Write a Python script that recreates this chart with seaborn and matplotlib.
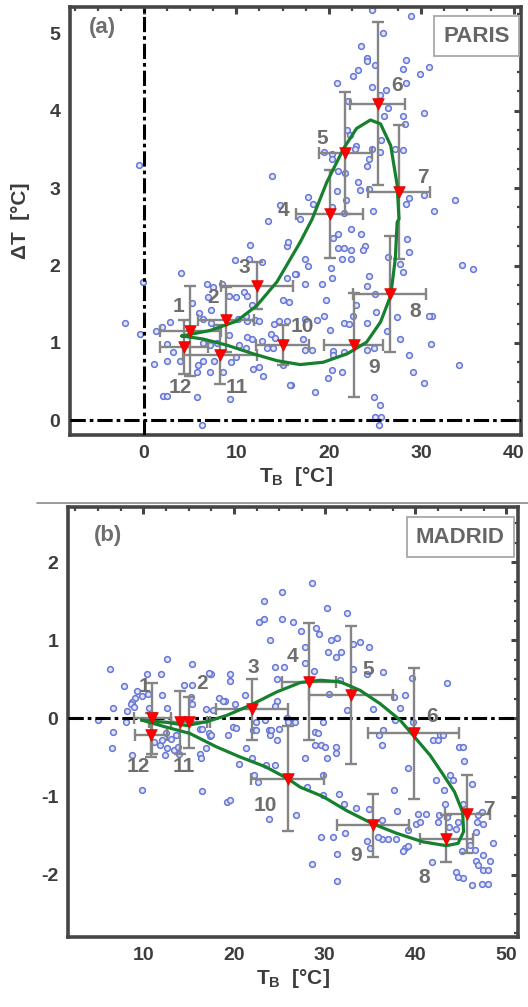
import matplotlib
matplotlib.use("Agg")
import matplotlib.pyplot as plt
import seaborn as sns
from matplotlib.ticker import MultipleLocator
from matplotlib.lines import Line2D

# ---------------- PARIS data ----------------
paris_pts = [
    (-0.5, 3.30), (13.9, 3.16), (14.7, 2.78), (13.4, 2.58),
    (24.7, 5.30), (28.9, 5.23), (25.9, 5.00), (23.5, 4.84), (24.1, 4.68), (24.1, 4.64), (25.0, 4.59),
    (28.4, 4.66), (28.0, 4.54), (30.8, 4.56), (29.9, 4.47), (23.2, 4.52), (22.6, 4.45), (20.9, 4.36),
    (28.4, 4.36), (24.7, 4.30), (26.2, 4.27), (25.5, 4.20), (22.1, 4.13), (26.4, 4.04), (26.0, 3.93),
    (28.0, 3.93), (30.3, 3.97), (28.2, 3.83), (22.0, 3.75), (22.3, 3.68), (23.0, 3.55), (22.8, 3.50),
    (25.6, 3.62), (24.7, 3.51), (25.5, 3.47), (27.2, 3.51), (28.0, 3.49), (24.4, 3.37), (19.5, 3.47),
    (20.3, 3.44), (20.4, 3.37), (24.1, 3.28), (21.0, 3.22), (21.8, 3.19), (23.2, 3.08), (23.4, 2.98),
    (20.9, 2.96), (24.3, 2.99), (17.8, 2.89), (18.3, 2.80), (21.9, 2.84), (20.3, 2.76), (21.7, 2.68),
    (24.8, 2.71), (28.7, 2.87), (28.4, 2.80), (30.3, 2.91), (31.4, 2.71), (33.7, 2.85), (16.9, 2.60),
    (22.4, 2.47), (21.0, 2.41), (23.5, 2.41), (20.5, 2.35), (28.5, 2.34), (28.7, 2.18), (23.9, 2.25),
    (23.7, 2.20), (21.0, 2.23), (21.6, 2.23), (22.4, 2.20), (21.4, 2.09), (22.4, 2.09), (26.4, 2.11),
    (20.2, 1.97), (17.4, 2.09), (17.8, 1.99), (16.4, 1.89), (28.0, 1.92), (27.7, 2.02), (34.4, 2.01),
    (35.6, 1.95), (20.4, 1.84), (19.3, 1.76), (17.4, 1.76), (24.3, 1.86), (24.1, 1.74), (25.0, 1.63),
    (19.7, 1.56), (23.0, 1.49), (25.1, 1.40), (22.6, 1.35), (19.5, 1.35), (27.4, 1.33), (31.2, 1.35),
    (21.6, 1.26), (22.2, 1.24), (24.1, 1.26), (17.4, 1.31), (18.7, 1.30), (20.1, 1.17), (26.3, 1.15),
    (17.2, 1.05), (27.7, 1.05), (31.1, 0.99), (17.4, 0.91), (18.2, 0.91), (20.5, 0.90), (20.5, 0.85),
    (21.6, 0.88), (24.1, 0.91), (24.9, 0.93), (28.7, 0.85), (34.1, 0.71), (20.3, 0.65), (21.4, 0.62),
    (19.9, 0.55), (29.1, 0.62), (30.3, 0.48), (18.5, 0.37), (24.9, 0.30), (25.5, 0.20), (25.0, 0.04),
    (25.6, 0.04), (25.4, -0.06), (15.9, 0.45),
    (11.5, 2.27), (15.5, 2.25), (15.6, 2.30), (9.9, 2.07), (11.4, 2.09), (12.8, 2.04), (4.0, 1.90),
    (-0.1, 1.79), (15.5, 1.84), (16.3, 1.89), (6.8, 1.76), (7.5, 1.72), (8.4, 1.76), (9.2, 1.61),
    (10.0, 1.59), (10.8, 1.66), (11.1, 1.61), (6.9, 1.59), (15.1, 1.56), (15.7, 1.53), (11.7, 1.49),
    (5.2, 1.51), (6.0, 1.38), (7.3, 1.42), (6.4, 1.31), (7.3, 1.26), (10.2, 1.31), (11.1, 1.28),
    (12.0, 1.29), (12.5, 1.28), (11.0, 1.35), (14.1, 1.24), (14.6, 1.28), (15.5, 1.28), (2.8, 1.27),
    (2.0, 1.20), (-2.0, 1.26), (-0.4, 1.11), (1.3, 1.15), (7.8, 1.20), (9.2, 1.10), (11.1, 1.08),
    (11.7, 1.05), (13.7, 1.11), (14.2, 1.06), (2.5, 0.99), (3.1, 0.88), (6.4, 1.00), (7.2, 0.97),
    (7.9, 1.00), (10.3, 0.97), (11.0, 0.93), (13.3, 0.93), (14.0, 0.93), (12.8, 1.02), (1.1, 0.73),
    (2.5, 0.77), (3.9, 0.77), (5.9, 0.71), (6.4, 0.76), (7.6, 0.76), (9.4, 0.75), (10.0, 0.82),
    (5.7, 0.62), (7.2, 0.62), (8.6, 0.62), (11.8, 0.66), (12.5, 0.69), (12.9, 0.57), (15.1, 0.71),
    (15.8, 0.46), (2.1, 0.32), (2.5, 0.32), (5.7, 0.30), (9.3, 0.28), (6.3, -0.06), (30.8, 1.35),
]
paris_tb = [p[0] for p in paris_pts]
paris_dt = [p[1] for p in paris_pts]

paris_month_tb = [5.0, 8.9, 12.2, 20.1, 21.8, 25.3, 27.6, 26.6, 22.7, 15.0, 8.2, 4.3]
paris_month_dt = [1.15, 1.30, 1.74, 2.67, 3.45, 4.09, 2.95, 1.63, 0.97, 0.97, 0.85, 0.95]
paris_month_xerr = [3.3, 3.0, 3.9, 3.6, 2.9, 3.0, 3.35, 3.95, 3.2, 2.9, 4.0, 2.6]
paris_month_yerr = [0.58, 0.42, 0.30, 0.57, 0.79, 1.05, 0.87, 0.75, 0.67, 0.26, 0.38, 0.35]
paris_lab_x = [3.7, 7.5, 10.9, 15.1, 19.3, 27.4, 30.2, 29.4, 24.9, 17.1, 10.0, 3.9]
paris_lab_y = [1.47, 1.59, 1.98, 2.71, 3.64, 4.32, 3.14, 1.41, 0.68, 1.21, 0.43, 0.43]

paris_fit_tb = [4.1, 7.15, 10.0, 12.2, 14.4, 16.9, 18.2, 19.8, 21.6, 23.0, 24.5, 25.6, 26.7, 27.4,
                27.6, 27.4, 27.2, 26.7, 25.6, 24.1, 22.0, 19.4, 16.9, 14.4, 11.8, 9.0, 6.4, 4.1]
paris_fit_dt = [1.09, 1.16, 1.28, 1.48, 1.79, 2.30, 2.60, 3.08, 3.51, 3.77, 3.88, 3.83, 3.55, 3.04,
                2.60, 2.56, 2.09, 1.61, 1.27, 1.01, 0.86, 0.75, 0.72, 0.77, 0.86, 0.97, 1.05, 1.09]

# ---------------- MADRID data ----------------
madrid_pts = [
    (25.3, 1.62), (23.3, 1.50), (22.7, 1.23), (23.3, 1.27), (25.3, 1.27), (26.5, 1.23), (24.0, 1.00),
    (24.5, 0.66), (25.5, 0.66), (24.7, 0.50), (12.6, 0.76), (6.3, 0.64), (15.4, 0.70), (10.4, 0.57),
    (11.9, 0.57), (17.3, 0.57), (17.5, 0.57), (19.6, 0.57), (19.6, 0.48), (7.9, 0.41), (14.5, 0.43),
    (15.4, 0.43), (9.3, 0.35), (9.9, 0.29), (10.5, 0.31), (9.1, 0.26), (8.8, 0.21), (8.6, 0.19),
    (9.0, 0.15), (6.7, 0.14), (8.2, 0.10), (12.1, 0.30), (10.6, 0.14), (12.6, 0.14), (15.3, 0.27),
    (15.4, 0.18), (16.9, 0.12), (18.3, 0.26), (19.0, 0.23), (21.2, 0.30), (24.7, 0.23), (24.5, 0.16),
    (5.0, -0.02), (17.2, 0.58),
    (28.6, 1.73), (30.2, 1.41), (32.4, 1.35), (27.4, 1.12), (29.0, 1.16), (29.4, 1.08), (30.7, 1.00),
    (31.4, 1.03), (31.8, 0.85), (31.2, 0.79), (30.4, 0.85), (27.8, 0.91), (33.1, 0.96), (33.9, 0.98),
    (34.9, 0.91), (27.8, 0.71), (28.8, 0.61), (33.1, 0.64), (34.7, 0.57), (36.4, 0.60), (39.6, 0.52),
    (43.5, 0.46), (31.7, 0.49), (30.5, 0.32), (37.6, 0.28), (38.8, 0.30), (38.3, 0.14), (35.3, 0.12),
    (29.8, -0.04), (25.8, 0.0), (26.3, -0.06), (23.4, -0.02), (19.9, -0.11), (22.1, -0.15),
    (23.9, -0.15), (28.9, -0.17), (28.9, -0.34), (32.4, 0.11), (37.7, -0.02), (39.7, -0.04),
    (41.9, -0.28), (42.7, -0.21), (44.8, -0.36), (36.0, -0.21), (17.7, 0.11), (16.2, -0.13),
    (17.2, -0.19), (20.1, 0.19), (18.8, 0.23), (6.7, -0.17),
    (8.1, -0.04), (6.6, -0.38), (8.8, -0.47), (9.9, -0.91), (11.2, -0.30), (11.8, -0.34), (12.1, -0.28),
    (12.6, -0.38), (12.4, -0.47), (13.0, -0.26), (13.4, -0.41), (13.8, -0.36), (13.9, -0.45),
    (13.6, -0.21), (12.5, -0.19), (16.5, -0.14), (17.3, -0.22), (17.5, -0.21), (16.9, -0.38),
    (16.2, -0.45), (16.4, -0.51), (16.5, -0.93), (19.3, -0.21), (20.2, -0.12), (21.3, -0.38),
    (20.6, -0.58), (22.0, -0.51), (22.4, -0.04), (22.4, -0.15), (24.0, -0.21), (24.1, -0.15),
    (24.7, -0.28), (25.0, -0.13), (23.5, -0.59), (24.5, -0.59), (22.2, -0.73), (22.6, -0.81),
    (19.2, -1.07), (19.6, -1.05), (23.9, -1.29), (26.8, -1.24), (25.9, -0.05), (26.7, -0.05),
    (29.3, -0.18), (29.6, -0.34), (30.0, -0.37), (31.2, -0.36), (31.2, -0.44), (27.8, -0.51),
    (30.2, -0.51), (29.8, -0.73), (28.0, -0.88), (29.8, -0.98), (31.6, -0.97), (32.1, -1.09),
    (33.4, -1.15), (34.9, -1.16), (36.3, -1.30), (37.6, -0.91), (38.0, -1.18), (39.2, -0.63),
    (36.4, -0.15), (36.3, -0.34), (40.3, -1.23), (41.2, -1.23), (40.1, -1.35), (40.5, -1.32),
    (39.2, -1.43), (38.8, -1.66), (39.2, -1.64), (38.6, -1.70), (37.0, -1.54), (36.3, -1.54),
    (37.9, -1.54), (34.7, -1.57), (35.0, -1.66), (35.9, -1.52), (32.2, -1.47), (30.9, -1.52),
    (29.6, -1.52), (31.4, -1.74), (28.6, -1.86), (31.4, -2.08), (42.6, -1.24), (42.5, -1.33),
    (43.7, -1.39), (44.5, -1.41), (43.2, -1.09), (43.1, -0.92), (42.3, -0.79), (43.8, -0.73),
    (44.1, -0.79), (45.2, -0.36), (45.4, -0.54), (46.2, -0.84), (42.5, -0.28), (43.0, -0.21),
    (41.8, -1.84), (44.5, -1.97), (45.2, -2.05), (46.2, -2.14), (45.1, -1.70), (46.0, -1.62),
    (46.6, -1.68), (46.7, -1.82), (46.9, -1.88), (47.4, -1.75), (47.4, -1.94), (48.0, -1.94),
    (48.2, -1.82), (48.5, -1.59), (48.0, -2.12), (46.7, -1.45), (46.8, -1.33), (47.4, -1.35),
    (46.9, -1.24), (47.3, -1.20), (44.7, -2.03), (44.7, -1.33), (43.5, -1.26), (45.2, -1.09),
    (47.3, -2.12),
]
madrid_tb = [p[0] for p in madrid_pts]
madrid_dt = [p[1] for p in madrid_pts]

madrid_month_tb = [11.0, 14.0, 22.0, 28.25, 32.9, 39.8, 45.7, 43.4, 35.3, 25.9, 15.0, 10.85]
madrid_month_dt = [0.0, -0.05, 0.12, 0.47, 0.30, -0.19, -1.23, -1.54, -1.37, -0.77, -0.05, -0.21]
madrid_month_xerr = [2.0, 3.4, 4.0, 3.0, 4.6, 5.0, 2.5, 2.9, 4.0, 4.0, 2.0, 1.8]
madrid_month_yerr = [0.45, 0.40, 0.39, 0.75, 0.88, 0.84, 0.50, 0.30, 0.40, 0.67, 0.33, 0.28]
madrid_lab_x = [10.1, 16.5, 22.1, 26.4, 34.8, 41.8, 48.1, 41.0, 33.5, 23.5, 14.5, 9.4]
madrid_lab_y = [0.41, 0.45, 0.65, 0.79, 0.63, 0.02, -1.17, -2.04, -1.75, -1.11, -0.62, -0.62]

madrid_fit_tb = [9.8, 12.6, 14.8, 17.0, 19.2, 21.8, 24.7, 27.3, 29.5, 31.7, 33.9, 36.1, 38.3, 39.7,
                 41.6, 43.0, 44.3, 45.2, 45.3, 44.7, 43.4, 40.8, 37.9, 35.3, 32.4, 29.8, 27.3, 25.9,
                 23.5, 20.6, 18.0, 15.1, 12.5, 9.8]
madrid_fit_dt = [-0.02, -0.05, -0.09, -0.04, 0.04, 0.17, 0.34, 0.46, 0.49, 0.47, 0.36, 0.19, -0.02, -0.21,
                 -0.47, -0.71, -0.94, -1.20, -1.45, -1.60, -1.63, -1.58, -1.47, -1.35, -1.18, -1.00, -0.88,
                 -0.77, -0.62, -0.49, -0.36, -0.19, -0.11, -0.02]

month_labels = [str(i) for i in range(1, 13)]

# ---------------- style ----------------
sns.set_style("white")
plt.rcParams["font.family"] = ["Liberation Sans", "DejaVu Sans"]
plt.rcParams["font.weight"] = "bold"
plt.rcParams["axes.unicode_minus"] = False
plt.rcParams["mathtext.fontset"] = "custom"
plt.rcParams["mathtext.rm"] = "Liberation Sans:bold"
plt.rcParams["mathtext.bf"] = "Liberation Sans:bold"
plt.rcParams["mathtext.it"] = "Liberation Sans:bold"

SPINE = "#454545"
TXT = "#3c3c3c"
GRAYTXT = "#6e6e6e"
DASHDOT = (0, (5.0, 1.3, 1.2, 1.3))

fig = plt.figure(figsize=(5.28, 10.07), dpi=100)
ax1 = fig.add_axes([70 / 528, 1 - 435 / 1007, 451 / 528, 428 / 1007])
ax2 = fig.add_axes([68 / 528, 1 - 937 / 1007, 450 / 528, 430 / 1007])


def draw(ax, tb, dt, mtb, mdt, mxe, mye, ftb, fdt, lx, ly, name, tag, name_pos, tag_pos,
         xlim, ylim, xticks, yticks, vline):
    sns.scatterplot(x=tb, y=dt, ax=ax, marker="o", s=17, color="#e2e6f8",
                    edgecolor="#6675d8", linewidth=1.1, zorder=2, legend=False)
    ax.axhline(0, color="black", lw=2.2, ls=DASHDOT, zorder=3)
    if vline:
        ax.axvline(0, color="black", lw=2.2, ls=DASHDOT, zorder=3)
    ax.errorbar(mtb, mdt, xerr=mxe, yerr=mye, fmt="none", ecolor="#858585",
                elinewidth=1.7, capsize=4.5, capthick=1.7, zorder=4)
    sns.lineplot(x=ftb, y=fdt, sort=False, estimator=None, color="#17802e", lw=2.3,
                 ax=ax, zorder=5, legend=False)
    sns.scatterplot(x=mtb, y=mdt, ax=ax, marker="v", s=70, color="#ff0000",
                    edgecolor="#e00000", linewidth=0.5, zorder=6, legend=False)
    for lab, x, y in zip(month_labels, lx, ly):
        ax.text(x, y, lab, ha="center", va="center", fontsize=15, fontweight="bold",
                color=GRAYTXT, zorder=7)
    ax.text(name_pos[0], name_pos[1], name, transform=ax.transAxes, ha="center", va="center",
            fontsize=16, fontweight="bold", color="#666666", zorder=8,
            bbox=dict(boxstyle="square,pad=0.42", fc="white", ec="#a8a8a8", lw=1.3))
    ax.text(tag_pos[0], tag_pos[1], tag, transform=ax.transAxes, ha="center", va="center",
            fontsize=16, fontweight="bold", color=GRAYTXT, zorder=8)
    ax.set_xlim(*xlim)
    ax.set_ylim(*ylim)
    ax.set_xticks(xticks)
    ax.set_yticks(yticks)
    ax.xaxis.set_minor_locator(MultipleLocator(2.5))
    ax.yaxis.set_minor_locator(MultipleLocator(0.25))
    ax.tick_params(which="both", direction="in", top=True, right=True, color=SPINE)
    ax.tick_params(which="major", length=5, width=2.2, labelsize=14, labelcolor=TXT, pad=7)
    ax.tick_params(which="minor", length=3, width=1.6)
    for lbl in ax.get_xticklabels() + ax.get_yticklabels():
        lbl.set_fontweight("bold")
    for sp in ax.spines.values():
        sp.set_color(SPINE)
        sp.set_linewidth(2.6)
    ax.set_xlabel(r"T$_\mathregular{B}$  [°C]", fontsize=15, fontweight="bold", color=TXT, labelpad=2)
    ax.grid(False)


draw(ax1, paris_tb, paris_dt, paris_month_tb, paris_month_dt, paris_month_xerr, paris_month_yerr,
     paris_fit_tb, paris_fit_dt, paris_lab_x, paris_lab_y, "PARIS", "(a)", (0.902, 0.932), (0.073, 0.951),
     (-8.0, 40.8), (-0.19, 5.34), [0, 10, 20, 30, 40], [0, 1, 2, 3, 4, 5], True)
ax1.set_ylabel("ΔT  [°C]", fontsize=15, fontweight="bold", color=TXT, labelpad=14)

draw(ax2, madrid_tb, madrid_dt, madrid_month_tb, madrid_month_dt, madrid_month_xerr, madrid_month_yerr,
     madrid_fit_tb, madrid_fit_dt, madrid_lab_x, madrid_lab_y, "MADRID", "(b)", (0.872, 0.930), (0.089, 0.933),
     (1.7, 51.3), (-2.80, 2.71), [10, 20, 30, 40, 50], [-2, -1, 0, 1, 2], False)

fig.add_artist(Line2D([37 / 528, 1.0], [1 - 503 / 1007, 1 - 503 / 1007], color="#8a8a8a", lw=1.2))

fig.savefig("out.png", dpi=100)
